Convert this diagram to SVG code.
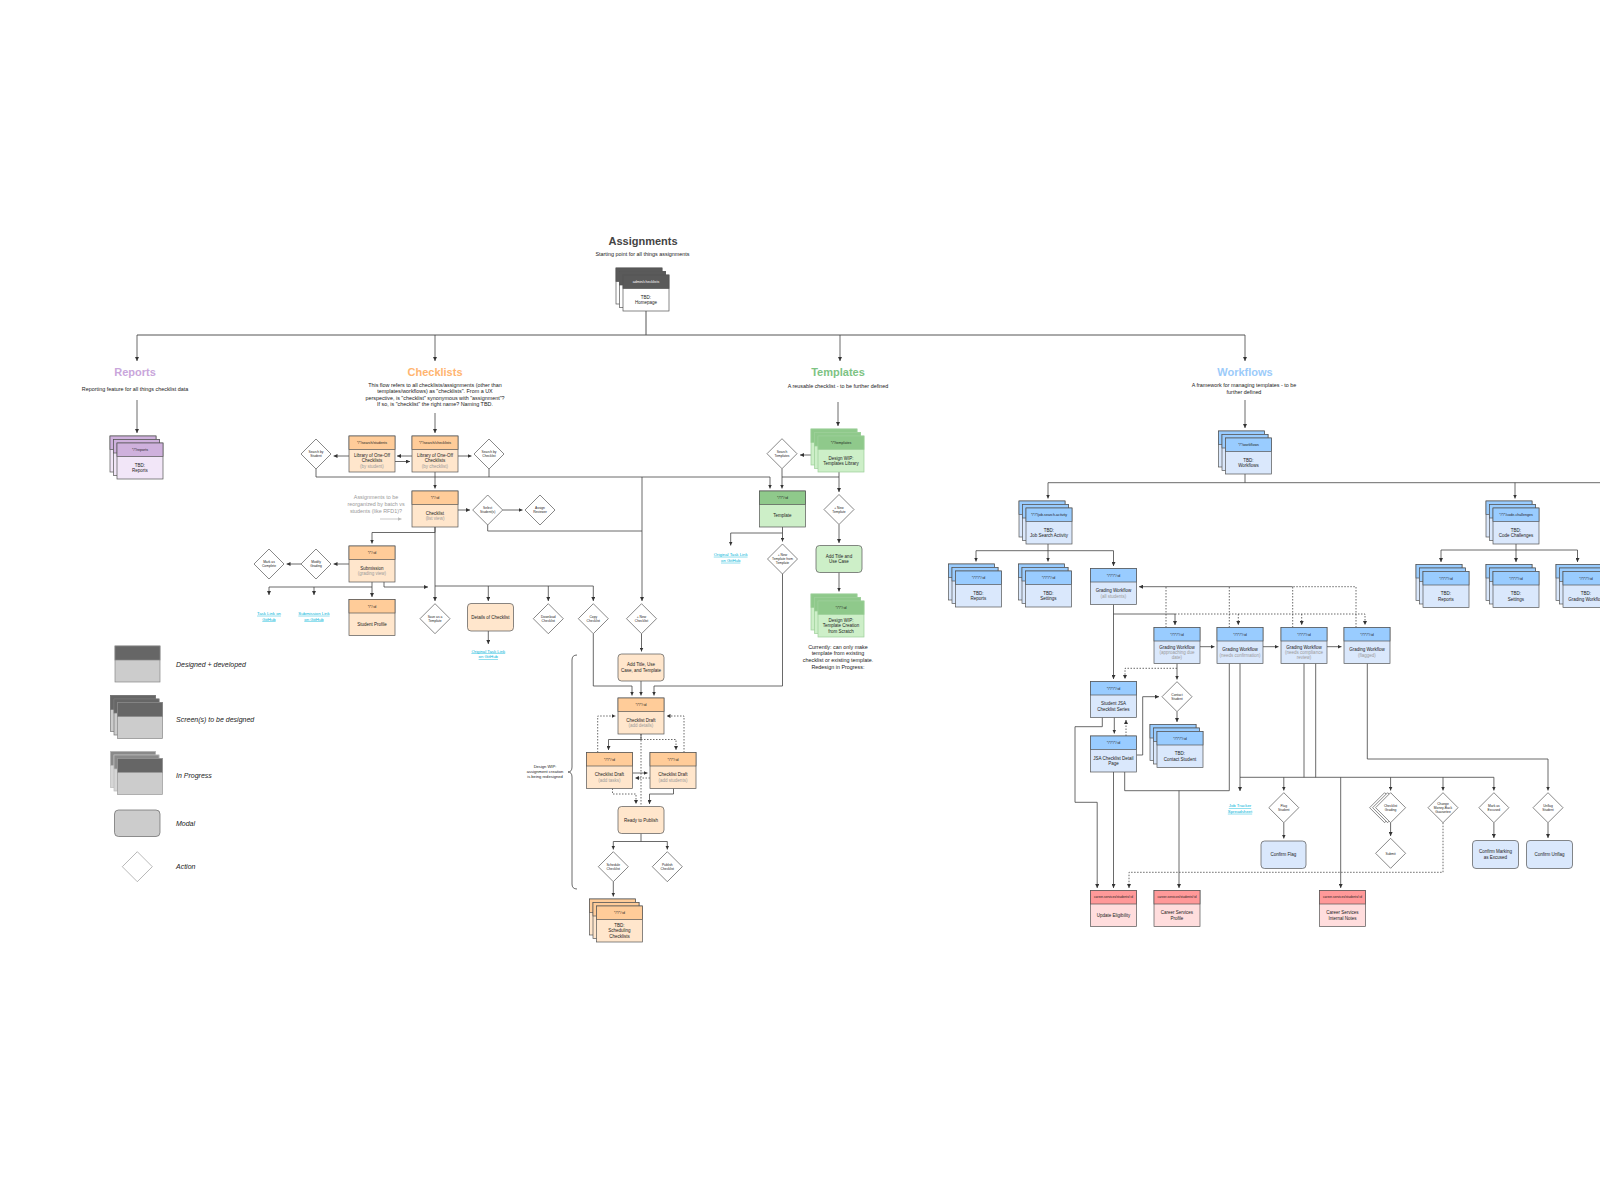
<svg xmlns="http://www.w3.org/2000/svg" width="1600" height="1200" viewBox="0 0 1600 1200">
<defs>
<style>
text{font-family:"Liberation Sans",Arial,sans-serif;fill:#222;text-anchor:middle}
.t{font-size:11px;font-weight:bold}
.s{font-size:5.4px}
.n{font-size:4.5px}
.g{fill:#9a9a9a}
.h{font-size:3.6px}
.hr3{font-size:3.2px}
.hw{font-size:3.6px;fill:#fff}
.dt{font-size:3.3px}
.lk{font-size:4.3px;fill:#00B4D8;text-decoration:underline}
.lg{font-size:7px;font-style:italic;text-anchor:start}
.w{font-size:4.1px}
rect,polygon{stroke:#555;stroke-width:.7}
.bgr{fill:#fff;stroke:none}
.c{fill:none;stroke:#444;stroke-width:.8}
.m{fill:none;stroke:#555;stroke-width:1}
.d{fill:none;stroke:#444;stroke-width:.8;stroke-dasharray:1.5 1.5}
.ar{marker-end:url(#a)}
.ho{fill:#FFCC99}.bo{fill:#FFE6CC}
.hg{fill:#8FC98B}.bg{fill:#CDEFC8}
.ip{stroke:#9ccf98}
.hb{fill:#99CCFF}.bb{fill:#DAE8FC}
.hp{fill:#CFB1DD}.bp{fill:#F2E6F8}
.hr{fill:#FF9999}.br{fill:#FFDDDD}
.hk{fill:#5A5A5A}.bk{fill:#fff}
.hl{fill:#666}.bl{fill:#ccc}
.dia{fill:#fff}
</style>
<marker id="a" viewBox="0 0 6 6" refX="6" refY="3" markerWidth="4" markerHeight="4" markerUnits="userSpaceOnUse" orient="auto"><path d="M0,0L6,3L0,6z" fill="#333"/></marker>
<marker id="ag" viewBox="0 0 6 6" refX="6" refY="3" markerWidth="4" markerHeight="4" markerUnits="userSpaceOnUse" orient="auto"><path d="M0,0L6,3L0,6z" fill="#bbb"/></marker>
</defs>
<rect class="bgr" x="0" y="0" width="1600" height="1200"/>

<g id="connectors">
<path class="m" d="M646,311V335M137,335H1245"/>
<path class="c ar" d="M137,335V361"/><path class="c ar" d="M435,335V361"/><path class="c ar" d="M840,335V361"/><path class="c ar" d="M1245,335V361"/>
<path class="c ar" d="M137,400V433"/>
<path class="c ar" d="M435,413V433"/>
<path class="c ar" d="M838,402V426"/>
<path class="c ar" d="M1245,400V428"/>
<path class="c ar" d="M412,456H397"/>
<path class="c ar" d="M395,461.5H410"/>
<path class="c ar" d="M349,456H333.5"/>
<path class="c ar" d="M458,456H471.5"/>
<path class="c ar" d="M435,472V488.5"/>
<path class="c ar" d="M316,469V477H770V488.5"/>
<path class="c" d="M489,469V477"/>
<path class="c ar" d="M642,477V601"/>
<path class="c" d="M487.7,525V531H642"/>
<path class="c ar" d="M458,510H470"/>
<path class="c ar" d="M502.7,510H522.5"/>
<path class="c ar" d="M435,527V532.5H372V543.5"/>
<path class="c ar" d="M435,527V601"/>
<path class="c" d="M435,586H593.3"/>
<path class="c ar" d="M488.3,586V601"/>
<path class="c ar" d="M548.3,586V601"/>
<path class="c ar" d="M593.3,586V601"/>
<path class="c ar" d="M349,564H333.5"/>
<path class="c ar" d="M301,564H286.5"/>
<path class="c ar" d="M372,582V587H269V595"/>
<path class="c ar" d="M314,587V595"/>
<path class="c ar" d="M372,587V597"/>
<path class="c ar" d="M384,582V587H428"/>
<path class="c ar" d="M488.3,631V644"/>
<path class="c ar" d="M593.3,633.7V686H632V695.5"/>
<path class="c ar" d="M641.5,633.7V651.5"/>
<path class="c ar" d="M641,681V695.5"/>
<path class="c ar" d="M782.5,574V686H654V695.5"/>
<path fill="none" stroke="#bbb" stroke-width=".8" marker-end="url(#ag)" d="M380,519H401.5"/>
<path class="d ar" d="M597.7,752.5V716H615.5"/>
<path class="d ar" d="M684,752.5V716H666.5"/>
<path class="c ar" d="M641,734V739.5H608.5V750"/>
<path class="d ar" d="M641,739.5H676V750"/>
<path class="d" d="M641,734V806.5"/>
<path class="c ar" d="M632.5,773H647.5"/>
<path class="d ar" d="M650,778H635"/>
<path class="d ar" d="M612.5,788.5V794H636V804"/>
<path class="c ar" d="M673.5,788.5V794H649.5V804"/>
<path class="c ar" d="M641,833.5V841.5H613.3V849.5"/>
<path class="c ar" d="M641,841.5H667.3V849.5"/>
<path class="c ar" d="M613.3,881.7V896.5"/>
<path class="c" d="M577,655Q572,655 572,660V767Q572,772 568,772Q572,772 572,777V884Q572,889 577,889"/>
<path class="c ar" d="M811,455H800"/>
<path class="c ar" d="M782,468.7V488.5"/>
<path class="c" d="M839,472V477H782"/>
<path class="c ar" d="M839,477V492"/>
<path class="c ar" d="M782.5,527V533H730.7V545.5"/>
<path class="c ar" d="M782.5,533V541.5"/>
<path class="c ar" d="M839,524.5V543"/>
<path class="c ar" d="M839,572.5V591.5"/>
<path class="c" d="M1245,474V482.7M1048,482.7H1600"/>
<path class="c ar" d="M1048,482.7V498.5"/>
<path class="c ar" d="M1515,482.7V498.5"/>
<path class="c ar" d="M1048,544V550.7H976V561.5"/>
<path class="c ar" d="M1048,550.7V561.5"/>
<path class="c ar" d="M1048,550.7H1113.5V566"/>
<path class="c ar" d="M1516,544V550H1441V562"/>
<path class="c ar" d="M1516,550V562"/>
<path class="c ar" d="M1516,550H1577.5V562"/>
<path class="c ar" d="M1113.5,604.5V679"/>
<path class="c ar" d="M1113.5,614H1175V625"/>
<path class="d ar" d="M1175,614H1365V625"/>
<path class="d ar" d="M1238.3,614V625"/>
<path class="d ar" d="M1301.7,614V625"/>
<path class="d" d="M1166,627.5V586.7M1229.3,627.5V586.7M1292.7,627.5V586.7M1356,627.5V586.7H1292.7"/>
<path class="c ar" d="M1292.7,586.7H1139"/>
<path class="c ar" d="M1200,646.7H1214.5"/>
<path class="c ar" d="M1263,646.7H1278.5"/>
<path class="c ar" d="M1327,646.7H1341.5"/>
<path class="c ar" d="M1177,663.5V679.5"/>
<path class="d ar" d="M1177,668.3H1125V679"/>
<path class="c ar" d="M1114.3,717.5V733.5"/>
<path class="d ar" d="M1126,736V720"/>
<path class="c ar" d="M1136.5,755H1142.7V696.7H1159"/>
<path class="c ar" d="M1177,711.7V722"/>
<path class="c ar" d="M1102.3,717.5V726.7H1075V802.3H1097.2V888"/>
<path class="c ar" d="M1113.5,772V888"/>
<path class="c" d="M1124.7,772V790.7H1229.3V663.5"/>
<path class="c ar" d="M1179,790.7V888"/>
<path class="c ar" d="M1240,663.5V791"/>
<path class="c" d="M1240,777.3H1493.9M1304,663.5V777.3M1315.7,663.5V777.3"/>
<path class="c ar" d="M1283.8,777.3V790.5"/>
<path class="c ar" d="M1390.6,777.3V790.5"/>
<path class="c ar" d="M1443,777.3V790.5"/>
<path class="c ar" d="M1493.9,777.3V790.5"/>
<path class="c ar" d="M1340.7,777.3V888"/>
<path class="c ar" d="M1367.3,663.5V759H1548V790.5"/>
<path class="c ar" d="M1283.8,822.7V838.5"/>
<path class="c ar" d="M1390.6,822.7V836"/>
<path class="c ar" d="M1493.9,822.7V838"/>
<path class="c ar" d="M1548,822.7V838"/>
<path class="d ar" d="M1443,822.7V872.3H1129V888"/>
</g>

<g id="section-texts">
<text class="t" x="643" y="245" style="fill:#444">Assignments</text>
<text class="s" x="642.5" y="256">Starting point for all things assignments</text>
<text class="t" x="135" y="375.6" style="fill:#C9A6DB">Reports</text>
<text class="s" x="135" y="390.6">Reporting feature for all things checklist data</text>
<text class="t" x="435" y="375.6" style="fill:#FFB570">Checklists</text>
<text class="s" x="435" y="386.9">This flow refers to all checklists/assignments (other than</text>
<text class="s" x="435" y="393.4">templates/workflows) as "checklists". From a UX</text>
<text class="s" x="435" y="399.9">perspective, is "checklist" synonymous with "assignment"?</text>
<text class="s" x="435" y="406.4">If so, is "checklist" the right name? Naming TBD.</text>
<text class="t" x="838" y="375.6" style="fill:#7DC383">Templates</text>
<text class="s" x="838" y="387.6">A reusable checklist - to be further defined</text>
<text class="t" x="1245" y="375.6" style="fill:#9CCBFA">Workflows</text>
<text class="s" x="1244" y="386.9">A framework for managing templates - to be</text>
<text class="s" x="1244" y="393.6">further defined</text>
<text class="s g" x="376" y="499.2">Assignments to be</text>
<text class="s g" x="376" y="506">reorganized by batch vs</text>
<text class="s g" x="376" y="512.8">students (like RFD1)?</text>
<text class="s" x="838" y="648.6">Currently: can only make</text>
<text class="s" x="838" y="655.3">template from existing</text>
<text class="s" x="838" y="662">checklist or existing template.</text>
<text class="s" x="838" y="668.7">Redesign in Progress:</text>
<text class="w" x="545" y="768.1">Design WIP:</text>
<text class="w" x="545" y="773.1">assignment creation</text>
<text class="w" x="545" y="778.1">is being redesigned</text>
<text class="lk" x="269" y="614.8">Task Link on</text><text class="lk" x="269" y="620.5">GitHub</text>
<text class="lk" x="314" y="614.8">Submission Link</text><text class="lk" x="314" y="620.5">on GitHub</text>
<text class="lk" x="488.3" y="652.5">Original Task Link</text><text class="lk" x="488.3" y="658.2">on GitHub</text>
<text class="lk" x="730.7" y="555.8">Original Task Link</text><text class="lk" x="730.7" y="561.8">on GitHub</text>
<text class="lk" x="1240" y="807.2">Job Tracker</text><text class="lk" x="1240" y="812.8">Spreadsheet</text>
</g>

<g id="assignments">
<rect class="bk" x="616" y="268" width="46" height="36"/><rect class="hk" x="616" y="268" width="46" height="13.5"/>
<rect class="bk" x="619.5" y="271.5" width="46" height="36"/><rect class="hk" x="619.5" y="271.5" width="46" height="13.5"/>
<rect class="bk" x="623" y="275" width="46" height="36"/><rect class="hk" x="623" y="275" width="46" height="13.5"/>
<text class="hw" x="646" y="283">admin/checklists</text>
<text class="n" x="646" y="298.7">TBD:</text><text class="n" x="646" y="304.1">Homepage</text>
</g>

<g id="reports">
<rect class="bp" x="110" y="436" width="46" height="36"/><rect class="hp" x="110" y="436" width="46" height="13.5"/>
<rect class="bp" x="113.5" y="439.5" width="46" height="36"/><rect class="hp" x="113.5" y="439.5" width="46" height="13.5"/>
<rect class="bp" x="117" y="443" width="46" height="36"/><rect class="hp" x="117" y="443" width="46" height="13.5"/>
<text class="h" x="140" y="451">*/*/reports</text>
<text class="n" x="140" y="466.7">TBD:</text><text class="n" x="140" y="472.1">Reports</text>
</g>

<g id="lib-student">
<rect class="bo" x="349" y="436" width="46" height="36"/><rect class="ho" x="349" y="436" width="46" height="13.5"/>
<text class="h" x="372" y="444">*/*/search/students</text>
<text class="n" x="372" y="457">Library of One-Off</text><text class="n" x="372" y="462.4">Checklists</text><text class="n g" x="372" y="467.8">(by student)</text>
</g>
<g id="lib-checklist">
<rect class="bo" x="412" y="436" width="46" height="36"/><rect class="ho" x="412" y="436" width="46" height="13.5"/>
<text class="h" x="435" y="444">*/*/search/checklists</text>
<text class="n" x="435" y="457">Library of One-Off</text><text class="n" x="435" y="462.4">Checklists</text><text class="n g" x="435" y="467.8">(by checklist)</text>
</g>
<g id="checklist">
<rect class="bo" x="412" y="491" width="46" height="36"/><rect class="ho" x="412" y="491" width="46" height="13.5"/>
<text class="h" x="435" y="499">*/*/:id</text>
<text class="n" x="435" y="514.7">Checklist</text><text class="n g" x="435" y="520.1">(list view)</text>
</g>
<g id="submission">
<rect class="bo" x="349" y="546" width="46" height="36"/><rect class="ho" x="349" y="546" width="46" height="13.5"/>
<text class="h" x="372" y="554">*/*/:id</text>
<text class="n" x="372" y="569.7">Submission</text><text class="n g" x="372" y="575.1">(grading view)</text>
</g>
<g id="student-profile">
<rect class="bo" x="349" y="599.5" width="46" height="36"/><rect class="ho" x="349" y="599.5" width="46" height="13.5"/>
<text class="h" x="372" y="607.5">*/*/:id</text>
<text class="n" x="372" y="625.9">Student Profile</text>
</g>
<g id="draft-details">
<rect class="bo" x="618" y="698" width="46" height="36"/><rect class="ho" x="618" y="698" width="46" height="13.5"/>
<text class="h" x="641" y="706">*/*/*/:id</text>
<text class="n" x="641" y="721.7">Checklist Draft</text><text class="n g" x="641" y="727.1">(add details)</text>
</g>
<g id="draft-tasks">
<rect class="bo" x="586.5" y="752.5" width="46" height="36"/><rect class="ho" x="586.5" y="752.5" width="46" height="13.5"/>
<text class="h" x="609.5" y="760.5">*/*/*/:id</text>
<text class="n" x="609.5" y="776.2">Checklist Draft</text><text class="n g" x="609.5" y="781.6">(add tasks)</text>
</g>
<g id="draft-students">
<rect class="bo" x="650" y="752.5" width="46" height="36"/><rect class="ho" x="650" y="752.5" width="46" height="13.5"/>
<text class="h" x="673" y="760.5">*/*/*/:id</text>
<text class="n" x="673" y="776.2">Checklist Draft</text><text class="n g" x="673" y="781.6">(add students)</text>
</g>
<g id="scheduling">
<rect class="bo" x="589.5" y="899" width="46" height="36"/><rect class="ho" x="589.5" y="899" width="46" height="13.5"/>
<rect class="bo" x="593" y="902.5" width="46" height="36"/><rect class="ho" x="593" y="902.5" width="46" height="13.5"/>
<rect class="bo" x="596.5" y="906" width="46" height="36"/><rect class="ho" x="596.5" y="906" width="46" height="13.5"/>
<text class="h" x="619.5" y="914">*/*/*/:id</text>
<text class="n" x="619.5" y="927">TBD:</text><text class="n" x="619.5" y="932.4">Scheduling</text><text class="n" x="619.5" y="937.8">Checklists</text>
</g>
<g id="details-modal">
<rect class="bo" x="467.5" y="603.5" width="46" height="27.5" rx="3.5"/>
<text class="n" x="490.5" y="618.9">Details of Checklist</text>
</g>
<g id="add-title-modal">
<rect class="bo" x="618" y="654" width="46" height="27" rx="3.5"/>
<text class="n" x="641" y="666.4">Add Title, Use</text><text class="n" x="641" y="671.8">Case, and Template</text>
</g>
<g id="ready-modal">
<rect class="bo" x="618" y="806.5" width="46" height="27" rx="3.5"/>
<text class="n" x="641" y="821.6">Ready to Publish</text>
</g>

<g id="templates-library">
<rect class="bg ip" x="811" y="429" width="46" height="36"/><rect class="hg ip" x="811" y="429" width="46" height="13.5"/>
<rect class="bg ip" x="814.5" y="432.5" width="46" height="36"/><rect class="hg ip" x="814.5" y="432.5" width="46" height="13.5"/>
<rect class="bg ip" x="818" y="436" width="46" height="36"/><rect class="hg ip" x="818" y="436" width="46" height="13.5"/>
<text class="h" x="841" y="444">*/*/templates</text>
<text class="n" x="841" y="459.7">Design WIP:</text><text class="n" x="841" y="465.1">Templates Library</text>
</g>
<g id="template">
<rect class="bg" x="759.5" y="491" width="46" height="36"/><rect class="hg" x="759.5" y="491" width="46" height="13.5"/>
<text class="h" x="782.5" y="499">*/*/*/:id</text>
<text class="n" x="782.5" y="517.4">Template</text>
</g>
<g id="template-creation">
<rect class="bg ip" x="811" y="594" width="46" height="36"/><rect class="hg ip" x="811" y="594" width="46" height="13.5"/>
<rect class="bg ip" x="814.5" y="597.5" width="46" height="36"/><rect class="hg ip" x="814.5" y="597.5" width="46" height="13.5"/>
<rect class="bg ip" x="818" y="601" width="46" height="36"/><rect class="hg ip" x="818" y="601" width="46" height="13.5"/>
<text class="h" x="841" y="609">*/*/*/:id</text>
<text class="n" x="841" y="622">Design WIP:</text><text class="n" x="841" y="627.4">Template Creation</text><text class="n" x="841" y="632.8">from Scratch</text>
</g>
<g id="add-title-usecase-modal">
<rect class="bg" x="816" y="545.5" width="46" height="27" rx="3.5"/>
<text class="n" x="839" y="557.9">Add Title and</text><text class="n" x="839" y="563.3">Use Case</text>
</g>

<g id="workflows">
<rect class="bb" x="1218.5" y="431" width="46" height="36"/><rect class="hb" x="1218.5" y="431" width="46" height="13.5"/>
<rect class="bb" x="1222" y="434.5" width="46" height="36"/><rect class="hb" x="1222" y="434.5" width="46" height="13.5"/>
<rect class="bb" x="1225.5" y="438" width="46" height="36"/><rect class="hb" x="1225.5" y="438" width="46" height="13.5"/>
<text class="h" x="1248.5" y="446">*/*/workflows</text>
<text class="n" x="1248.5" y="461.7">TBD:</text><text class="n" x="1248.5" y="467.1">Workflows</text>
</g>
<g id="job-search">
<rect class="bb" x="1019" y="501" width="46" height="36"/><rect class="hb" x="1019" y="501" width="46" height="13.5"/>
<rect class="bb" x="1022.5" y="504.5" width="46" height="36"/><rect class="hb" x="1022.5" y="504.5" width="46" height="13.5"/>
<rect class="bb" x="1026" y="508" width="46" height="36"/><rect class="hb" x="1026" y="508" width="46" height="13.5"/>
<text class="h" x="1049" y="516">*/*/*/job-search-activity</text>
<text class="n" x="1049" y="531.7">TBD:</text><text class="n" x="1049" y="537.1">Job Search Activity</text>
</g>
<g id="code-challenges">
<rect class="bb" x="1486" y="501" width="46" height="36"/><rect class="hb" x="1486" y="501" width="46" height="13.5"/>
<rect class="bb" x="1489.5" y="504.5" width="46" height="36"/><rect class="hb" x="1489.5" y="504.5" width="46" height="13.5"/>
<rect class="bb" x="1493" y="508" width="46" height="36"/><rect class="hb" x="1493" y="508" width="46" height="13.5"/>
<text class="h" x="1516" y="516">*/*/*/code-challenges</text>
<text class="n" x="1516" y="531.7">TBD:</text><text class="n" x="1516" y="537.1">Code Challenges</text>
</g>
<g id="jsa-reports">
<rect class="bb" x="948.5" y="564" width="46" height="36"/><rect class="hb" x="948.5" y="564" width="46" height="13.5"/>
<rect class="bb" x="952" y="567.5" width="46" height="36"/><rect class="hb" x="952" y="567.5" width="46" height="13.5"/>
<rect class="bb" x="955.5" y="571" width="46" height="36"/><rect class="hb" x="955.5" y="571" width="46" height="13.5"/>
<text class="h" x="978.5" y="579">*/*/*/*/:id</text>
<text class="n" x="978.5" y="594.7">TBD:</text><text class="n" x="978.5" y="600.1">Reports</text>
</g>
<g id="jsa-settings">
<rect class="bb" x="1018.5" y="564" width="46" height="36"/><rect class="hb" x="1018.5" y="564" width="46" height="13.5"/>
<rect class="bb" x="1022" y="567.5" width="46" height="36"/><rect class="hb" x="1022" y="567.5" width="46" height="13.5"/>
<rect class="bb" x="1025.5" y="571" width="46" height="36"/><rect class="hb" x="1025.5" y="571" width="46" height="13.5"/>
<text class="h" x="1048.5" y="579">*/*/*/*/:id</text>
<text class="n" x="1048.5" y="594.7">TBD:</text><text class="n" x="1048.5" y="600.1">Settings</text>
</g>
<g id="gw-all">
<rect class="bb" x="1090.5" y="568.5" width="46" height="36"/><rect class="hb" x="1090.5" y="568.5" width="46" height="13.5"/>
<text class="h" x="1113.5" y="576.5">*/*/*/*/:id</text>
<text class="n" x="1113.5" y="592.2">Grading Workflow</text><text class="n g" x="1113.5" y="597.6">(all students)</text>
</g>
<g id="cc-reports">
<rect class="bb" x="1416" y="564.5" width="46" height="36"/><rect class="hb" x="1416" y="564.5" width="46" height="13.5"/>
<rect class="bb" x="1419.5" y="568" width="46" height="36"/><rect class="hb" x="1419.5" y="568" width="46" height="13.5"/>
<rect class="bb" x="1423" y="571.5" width="46" height="36"/><rect class="hb" x="1423" y="571.5" width="46" height="13.5"/>
<text class="h" x="1446" y="579.5">*/*/*/*/:id</text>
<text class="n" x="1446" y="595.2">TBD:</text><text class="n" x="1446" y="600.6">Reports</text>
</g>
<g id="cc-settings">
<rect class="bb" x="1486" y="564.5" width="46" height="36"/><rect class="hb" x="1486" y="564.5" width="46" height="13.5"/>
<rect class="bb" x="1489.5" y="568" width="46" height="36"/><rect class="hb" x="1489.5" y="568" width="46" height="13.5"/>
<rect class="bb" x="1493" y="571.5" width="46" height="36"/><rect class="hb" x="1493" y="571.5" width="46" height="13.5"/>
<text class="h" x="1516" y="579.5">*/*/*/*/:id</text>
<text class="n" x="1516" y="595.2">TBD:</text><text class="n" x="1516" y="600.6">Settings</text>
</g>
<g id="cc-grading">
<rect class="bb" x="1556" y="564.5" width="46" height="36"/><rect class="hb" x="1556" y="564.5" width="46" height="13.5"/>
<rect class="bb" x="1559.5" y="568" width="46" height="36"/><rect class="hb" x="1559.5" y="568" width="46" height="13.5"/>
<rect class="bb" x="1563" y="571.5" width="46" height="36"/><rect class="hb" x="1563" y="571.5" width="46" height="13.5"/>
<text class="h" x="1586" y="579.5">*/*/*/*/:id</text>
<text class="n" x="1586" y="595.2">TBD:</text><text class="n" x="1586" y="600.6">Grading Workflow</text>
</g>
<g id="gw-approaching">
<rect class="bb" x="1154" y="627.5" width="46" height="36"/><rect class="hb" x="1154" y="627.5" width="46" height="13.5"/>
<text class="h" x="1177" y="635.5">*/*/*/*/:id</text>
<text class="n" x="1177" y="648.5">Grading Workflow</text><text class="n g" x="1177" y="653.9">(approaching due</text><text class="n g" x="1177" y="659.3">date)</text>
</g>
<g id="gw-confirmation">
<rect class="bb" x="1217" y="627.5" width="46" height="36"/><rect class="hb" x="1217" y="627.5" width="46" height="13.5"/>
<text class="h" x="1240" y="635.5">*/*/*/*/:id</text>
<text class="n" x="1240" y="651.2">Grading Workflow</text><text class="n g" x="1240" y="656.6">(needs confirmation)</text>
</g>
<g id="gw-compliance">
<rect class="bb" x="1281" y="627.5" width="46" height="36"/><rect class="hb" x="1281" y="627.5" width="46" height="13.5"/>
<text class="h" x="1304" y="635.5">*/*/*/*/:id</text>
<text class="n" x="1304" y="648.5">Grading Workflow</text><text class="n g" x="1304" y="653.9">(needs compliance</text><text class="n g" x="1304" y="659.3">review)</text>
</g>
<g id="gw-flagged">
<rect class="bb" x="1344" y="627.5" width="46" height="36"/><rect class="hb" x="1344" y="627.5" width="46" height="13.5"/>
<text class="h" x="1367" y="635.5">*/*/*/*/:id</text>
<text class="n" x="1367" y="651.2">Grading Workflow</text><text class="n g" x="1367" y="656.6">(flagged)</text>
</g>
<g id="student-jsa">
<rect class="bb" x="1090.5" y="681.5" width="46" height="36"/><rect class="hb" x="1090.5" y="681.5" width="46" height="13.5"/>
<text class="h" x="1113.5" y="689.5">*/*/*/*/:id</text>
<text class="n" x="1113.5" y="705.2">Student JSA</text><text class="n" x="1113.5" y="710.6">Checklist Series</text>
</g>
<g id="jsa-detail">
<rect class="bb" x="1090.5" y="736" width="46" height="36"/><rect class="hb" x="1090.5" y="736" width="46" height="13.5"/>
<text class="h" x="1113.5" y="744">*/*/*/*/:id</text>
<text class="n" x="1113.5" y="759.7">JSA Checklist Detail</text><text class="n" x="1113.5" y="765.1">Page</text>
</g>
<g id="contact-student-screen">
<rect class="bb" x="1150" y="724.5" width="46" height="36"/><rect class="hb" x="1150" y="724.5" width="46" height="13.5"/>
<rect class="bb" x="1153.5" y="728" width="46" height="36"/><rect class="hb" x="1153.5" y="728" width="46" height="13.5"/>
<rect class="bb" x="1157" y="731.5" width="46" height="36"/><rect class="hb" x="1157" y="731.5" width="46" height="13.5"/>
<text class="h" x="1180" y="739.5">*/*/*/*/:id</text>
<text class="n" x="1180" y="755.2">TBD:</text><text class="n" x="1180" y="760.6">Contact Student</text>
</g>
<g id="update-eligibility">
<rect class="br" x="1090.5" y="890.5" width="46" height="36"/><rect class="hr" x="1090.5" y="890.5" width="46" height="13.5"/>
<text class="hr3" x="1113.5" y="898.4">career-services/students/:id</text>
<text class="n" x="1113.5" y="916.9">Update Eligibility</text>
</g>
<g id="cs-profile">
<rect class="br" x="1154" y="890.5" width="46" height="36"/><rect class="hr" x="1154" y="890.5" width="46" height="13.5"/>
<text class="hr3" x="1177" y="898.4">career-services/students/:id</text>
<text class="n" x="1177" y="914.2">Career Services</text><text class="n" x="1177" y="919.6">Profile</text>
</g>
<g id="cs-notes">
<rect class="br" x="1319.5" y="890.5" width="46" height="36"/><rect class="hr" x="1319.5" y="890.5" width="46" height="13.5"/>
<text class="hr3" x="1342.5" y="898.4">career-services/students/:id</text>
<text class="n" x="1342.5" y="914.2">Career Services</text><text class="n" x="1342.5" y="919.6">Internal Notes</text>
</g>
<g id="confirm-flag">
<rect class="bb" x="1261" y="841" width="45" height="27.5" rx="3.5"/>
<text class="n" x="1283.5" y="856.4">Confirm Flag</text>
</g>
<g id="confirm-excused">
<rect class="bb" x="1472.5" y="840.5" width="46" height="28" rx="3.5"/>
<text class="n" x="1495.5" y="853.4">Confirm Marking</text><text class="n" x="1495.5" y="858.8">as Excused</text>
</g>
<g id="confirm-unflag">
<rect class="bb" x="1526.5" y="840.5" width="46" height="28" rx="3.5"/>
<text class="n" x="1549.5" y="856.1">Confirm Unflag</text>
</g>

<g id="actions">
<g id="search-student"><polygon class="dia" points="316,439 331,454 316,469 301,454"/><text class="dt" x="316" y="453.2">Search by</text><text class="dt" x="316" y="457.2">Student</text></g>
<g id="search-checklist"><polygon class="dia" points="489,439 504,454 489,469 474,454"/><text class="dt" x="489" y="453.2">Search by</text><text class="dt" x="489" y="457.2">Checklist</text></g>
<g id="select-students"><polygon class="dia" points="487.7,495 502.7,510 487.7,525 472.7,510"/><text class="dt" x="487.7" y="509.2">Select</text><text class="dt" x="487.7" y="513.2">Student(s)</text></g>
<g id="assign-reviewer"><polygon class="dia" points="540,495 555,510 540,525 525,510"/><text class="dt" x="540" y="509.2">Assign</text><text class="dt" x="540" y="513.2">Reviewer</text></g>
<g id="modify-grading"><polygon class="dia" points="316,549 331,564 316,579 301,564"/><text class="dt" x="316" y="563.2">Modify</text><text class="dt" x="316" y="567.2">Grading</text></g>
<g id="mark-complete"><polygon class="dia" points="269,549 284,564 269,579 254,564"/><text class="dt" x="269" y="563.2">Mark as</text><text class="dt" x="269" y="567.2">Complete</text></g>
<g id="save-template"><polygon class="dia" points="435,603.7 450,618.7 435,633.7 420,618.7"/><text class="dt" x="435" y="617.9">Save as a</text><text class="dt" x="435" y="621.9">Template</text></g>
<g id="download-checklist"><polygon class="dia" points="548.3,603.7 563.3,618.7 548.3,633.7 533.3,618.7"/><text class="dt" x="548.3" y="617.9">Download</text><text class="dt" x="548.3" y="621.9">Checklist</text></g>
<g id="copy-checklist"><polygon class="dia" points="593.3,603.7 608.3,618.7 593.3,633.7 578.3,618.7"/><text class="dt" x="593.3" y="617.9">Copy</text><text class="dt" x="593.3" y="621.9">Checklist</text></g>
<g id="new-checklist"><polygon class="dia" points="641.5,603.7 656.5,618.7 641.5,633.7 626.5,618.7"/><text class="dt" x="641.5" y="617.9">+ New</text><text class="dt" x="641.5" y="621.9">Checklist</text></g>
<g id="schedule-checklist"><polygon class="dia" points="613.3,851.7 628.3,866.7 613.3,881.7 598.3,866.7"/><text class="dt" x="613.3" y="865.9">Schedule</text><text class="dt" x="613.3" y="869.9">Checklist</text></g>
<g id="publish-checklist"><polygon class="dia" points="667.3,851.7 682.3,866.7 667.3,881.7 652.3,866.7"/><text class="dt" x="667.3" y="865.9">Publish</text><text class="dt" x="667.3" y="869.9">Checklist</text></g>
<g id="search-templates"><polygon class="dia" points="782,438.7 797,453.7 782,468.7 767,453.7"/><text class="dt" x="782" y="452.9">Search</text><text class="dt" x="782" y="456.9">Templates</text></g>
<g id="new-template"><polygon class="dia" points="839,494.5 854,509.5 839,524.5 824,509.5"/><text class="dt" x="839" y="508.7">+ New</text><text class="dt" x="839" y="512.7">Template</text></g>
<g id="new-from-template"><polygon class="dia" points="782.5,544 797.5,559 782.5,574 767.5,559"/><text class="dt" x="782.5" y="556.2">+ New</text><text class="dt" x="782.5" y="560.2">Template from</text><text class="dt" x="782.5" y="564.2">Template</text></g>
<g id="contact-student"><polygon class="dia" points="1177,681.7 1192,696.7 1177,711.7 1162,696.7"/><text class="dt" x="1177" y="695.9">Contact</text><text class="dt" x="1177" y="699.9">Student</text></g>
<g id="flag-student"><polygon class="dia" points="1283.8,792.7 1298.8,807.7 1283.8,822.7 1268.8,807.7"/><text class="dt" x="1283.8" y="806.9">Flag</text><text class="dt" x="1283.8" y="810.9">Student</text></g>
<g id="checklist-grading"><polygon class="dia" points="1384.6,792.7 1399.6,807.7 1384.6,822.7 1369.6,807.7"/><polygon class="dia" points="1387.6,792.7 1402.6,807.7 1387.6,822.7 1372.6,807.7"/><polygon class="dia" points="1390.6,792.7 1405.6,807.7 1390.6,822.7 1375.6,807.7"/><text class="dt" x="1390.6" y="806.9">Checklist</text><text class="dt" x="1390.6" y="810.9">Grading</text></g>
<g id="submit"><polygon class="dia" points="1390.6,838.3 1405.6,853.3 1390.6,868.3 1375.6,853.3"/><text class="dt" x="1390.6" y="854.5">Submit</text></g>
<g id="change-mbg"><polygon class="dia" points="1443,792.7 1458,807.7 1443,822.7 1428,807.7"/><text class="dt" x="1443" y="804.9">Change</text><text class="dt" x="1443" y="808.9">Money-Back</text><text class="dt" x="1443" y="812.9">Guarantee</text></g>
<g id="mark-excused"><polygon class="dia" points="1493.9,792.7 1508.9,807.7 1493.9,822.7 1478.9,807.7"/><text class="dt" x="1493.9" y="806.9">Mark as</text><text class="dt" x="1493.9" y="810.9">Excused</text></g>
<g id="unflag-student"><polygon class="dia" points="1548,792.7 1563,807.7 1548,822.7 1533,807.7"/><text class="dt" x="1548" y="806.9">Unflag</text><text class="dt" x="1548" y="810.9">Student</text></g>
</g>

<g id="legend">
<rect class="bl" x="115" y="646" width="45" height="36" style="stroke:#888"/><rect class="hl" x="115" y="646" width="45" height="14" style="stroke:#888"/>
<text class="lg" x="176" y="666.5">Designed + developed</text>
<rect class="bl" x="110.5" y="695.5" width="45" height="36" style="stroke:#777"/><rect class="hl" x="110.5" y="695.5" width="45" height="14" style="stroke:#777"/>
<rect class="bl" x="114" y="699" width="45" height="36" style="stroke:#777"/><rect class="hl" x="114" y="699" width="45" height="14" style="stroke:#777"/>
<rect class="bl" x="117.5" y="702.5" width="45" height="36" style="stroke:#888"/><rect class="hl" x="117.5" y="702.5" width="45" height="14" style="stroke:#888"/>
<text class="lg" x="176" y="721.8">Screen(s) to be designed</text>
<rect x="110.5" y="751.5" width="45" height="36" style="fill:#d6d6d6;stroke:#bbb"/><rect x="110.5" y="751.5" width="45" height="14" style="fill:#8a8a8a;stroke:#bbb"/>
<rect x="114" y="755" width="45" height="36" style="fill:#d6d6d6;stroke:#bbb"/><rect x="114" y="755" width="45" height="14" style="fill:#8a8a8a;stroke:#bbb"/>
<rect class="bl" x="117.5" y="758.5" width="45" height="36" style="stroke:#999"/><rect class="hl" x="117.5" y="758.5" width="45" height="14" style="stroke:#999"/>
<text class="lg" x="176" y="778">In Progress</text>
<rect x="114.5" y="810" width="45.5" height="26.5" rx="4" style="fill:#ccc;stroke:#666"/>
<text class="lg" x="176" y="825.8">Modal</text>
<polygon points="137.3,851.7 152.3,866.7 137.3,881.7 122.3,866.7" style="fill:#fff;stroke:#999"/>
<text class="lg" x="176" y="869.2">Action</text>
</g>
</svg>
